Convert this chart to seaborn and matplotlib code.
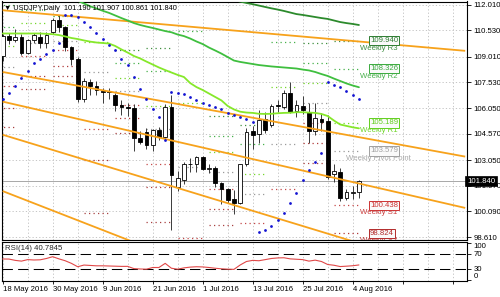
import matplotlib
matplotlib.use("Agg")
import matplotlib.pyplot as plt
import matplotlib.transforms as mtransforms
import numpy as np
import pandas as pd
import seaborn as sns

# ---------------- data ----------------
dates = pd.bdate_range("2016-05-18", "2016-08-05")

opens = [109.05, 110.20, 109.95, 110.15, 109.25, 109.97, 110.15, 109.80, 110.45, 111.10,
         110.70, 109.55, 108.85, 106.55, 107.55, 107.35, 107.05, 107.05, 106.80, 106.20,
         106.10, 106.05, 104.30, 104.65, 103.90, 104.80, 104.40, 106.10, 101.50, 101.90,
         102.80, 102.80, 103.20, 102.55, 102.60, 101.70, 101.40, 100.80, 100.60, 102.85,
         104.70, 104.55, 105.40, 105.10, 106.20, 106.10, 106.90, 105.90, 106.15, 105.80,
         104.70, 105.40, 105.30, 102.25, 102.35, 100.85, 101.15, 101.19]
highs = [110.30, 110.35, 110.60, 110.30, 110.05, 110.35, 110.45, 110.45, 111.25, 111.40,
         110.80, 109.60, 109.00, 107.80, 107.70, 107.60, 107.20, 107.20, 106.90, 106.50,
         106.35, 106.30, 104.70, 104.90, 104.85, 104.95, 106.30, 106.80, 102.40, 102.95,
         103.15, 103.30, 103.30, 102.80, 102.70, 101.80, 101.45, 101.30, 102.85, 104.90,
         105.00, 105.95, 105.80, 106.30, 106.50, 107.10, 107.55, 106.50, 106.72, 106.35,
         106.35, 105.75, 105.65, 102.80, 102.60, 101.40, 101.55, 101.907]
lows = [108.75, 109.75, 109.85, 109.10, 109.15, 109.80, 109.50, 109.50, 110.30, 110.45,
        109.35, 108.55, 106.40, 106.40, 106.80, 106.80, 106.35, 106.55, 105.90, 105.65,
        105.60, 103.55, 104.00, 103.70, 103.60, 104.20, 104.20, 99.00, 101.25, 101.65,
        102.35, 102.35, 102.50, 102.30, 101.50, 100.50, 100.60, 99.95, 100.50, 102.70,
        103.70, 104.05, 104.60, 104.95, 105.85, 106.00, 105.75, 105.55, 105.70, 104.05,
        104.50, 104.70, 101.97, 101.80, 100.70, 100.75, 100.80, 100.861]
closes = [110.20, 109.95, 110.15, 109.25, 109.97, 110.25, 109.80, 110.25, 111.10, 110.75,
          109.55, 108.85, 106.55, 107.60, 107.30, 107.10, 107.00, 106.95, 106.20, 106.10,
          106.05, 104.30, 104.10, 103.90, 104.80, 104.40, 106.10, 102.20, 102.00, 102.80,
          102.85, 103.20, 102.55, 102.60, 101.75, 101.40, 100.75, 100.55, 102.80, 104.65,
          104.50, 105.35, 104.80, 106.15, 106.15, 106.90, 105.85, 106.20, 105.95, 104.70,
          105.45, 105.25, 102.05, 102.40, 100.85, 101.20, 101.22, 101.840]

nan = np.nan
ma_fast = [110.35, 110.35, 110.35, 110.35, 110.35, 110.35, 110.35, 110.33, 110.31, 110.26,
           110.18, 110.09, 110.03, 109.95, 109.88, 109.83, 109.80, 109.77, 109.63, 109.43,
           109.25, 109.05, 108.91, 108.73, 108.56, 108.39, 108.24, 108.10, 107.96, 107.84,
           107.49, 107.26, 107.09, 106.89, 106.69, 106.49, 106.17, 105.97, 105.84, 105.79,
           105.77, 105.72, 105.71, 105.72, 105.75, 105.77, 105.78, 105.81, 105.81, 105.79,
           105.77, 105.71, 105.59, 105.33, 105.10, 105.02, 104.94, 104.88]
ma_mid = [nan] * 8 + [112.75, 112.62, 112.50, 112.38, 112.24, 112.08, 111.92, 111.79, 111.66,
          111.54, 111.39, 111.24, 111.10, 110.95, 110.84, 110.75, 110.67, 110.58, 110.49,
          110.42, 110.29, 110.20, 110.06, 109.89, 109.74, 109.54, 109.37, 109.19, 108.99,
          108.79, 108.71, 108.65, 108.59, 108.53, 108.49, 108.45, 108.42, 108.39, 108.36,
          108.33, 108.27, 108.22, 108.13, 108.01, 107.90, 107.75, 107.61, 107.47, 107.35,
          107.25]
ma_slow = [nan] * 36 + [112.40, 112.28, 112.19, 112.11, 112.04, 111.96, 111.88, 111.80,
           111.73, 111.65, 111.56, 111.47, 111.42, 111.36, 111.30, 111.24, 111.19, 111.10,
           111.01, 110.95, 110.90, 110.84]

sar = [106.57, 106.90, 107.32, 107.77, 108.21, 108.63, 108.86, 109.18, 109.42, 109.80,
       111.42, 111.40, 111.30, 111.04, 110.73, 110.40, 110.02, 109.70, 109.40, 108.86,
       108.53, 107.86, 107.13, 106.55, 105.98, 105.55, 104.21, 106.95, 106.90, 106.86,
       106.67, 106.51, 106.32, 106.21, 106.13, 105.98, 105.75, 105.65, 105.52, 105.42,
       105.26, 98.88, 99.02, 99.25, 99.60, 100.01, 100.56, 101.17, 101.90, 102.48,
       102.96, 103.44, 107.57, 107.38, 107.28, 107.05, 106.80, 106.55]

rsi = [56.7, 56.5, 53.0, 51.0, 55.0, 54.0, 54.5, 58.0, 62.8, 57.0,
       52.0, 45.0, 36.0, 40.5, 39.5, 38.5, 38.5, 38.0, 37.5, 37.0,
       37.0, 31.0, 30.0, 29.5, 34.0, 34.0, 45.0, 32.0, 29.5, 33.0,
       35.0, 36.0, 35.5, 34.0, 32.0, 30.5, 29.5, 29.0, 40.7, 50.0,
       53.0, 52.0, 55.0, 58.0, 59.5, 60.0, 57.0, 56.0, 55.0, 51.0,
       53.6, 50.0, 42.0, 40.0, 36.5, 37.5, 38.7, 40.78]

# weekly pivot levels (first bar of each week, then levels; None = off chart)
week_start = [-2, 3, 8, 13, 18, 23, 28, 33, 38, 43, 48, 53]
piv_r3 = [112.00, None, None, None, 109.40, 109.50, None, 105.60, 105.10, None, 109.78, 109.940]
piv_r2 = [110.75, 111.72, 111.38, None, 108.65, 108.20, 110.47, 104.45, 103.95, 109.86, 108.64, 108.326]
piv_r1 = [109.65, 110.93, 110.82, 109.87, 107.80, 106.15, 106.33, 103.50, 102.25, 107.28, 107.48, 105.189]
piv_pp = [108.40, 109.82, 109.93, 108.13, 107.05, 104.85, 102.67, 102.35, 101.10, 103.98, 106.34, 103.579]
piv_s1 = [107.30, 109.03, 109.37, 104.82, 106.20, 102.80, 98.53, 101.40, 99.40, 101.40, 105.18, 100.438]
piv_s2 = [106.05, 107.92, 108.48, 103.08, 105.45, 101.50, None, 100.25, None, None, 104.04, 98.824]
piv_s3 = [104.95, 107.14, 107.91, 100.00, 104.60, 99.45, None, 99.30, None, None, 102.88, None]

# channel / trend lines: (bar0, price0, bar1, price1)
trend_lines = [(0, 111.69, 74, 109.35),
               (0, 108.13, 74, 103.25),
               (0, 106.42, 74, 100.29),
               (0, 104.51, 60, 97.93),
               (0, 101.26, 24, 97.89)]

price_ticks = [112.010, 110.530, 109.010, 107.530, 106.050, 104.570, 103.050, 101.570, 100.090, 98.610]
rsi_levels = [30, 70]
rsi_ticks = [0, 30, 70, 100]

# ---------------- style ----------------
sns.set_theme(style="white")
plt.rcParams["font.family"] = ["Liberation Sans", "DejaVu Sans"]
FS = 5.6

fig = plt.figure(figsize=(5.0, 2.97), dpi=100)
fig.patch.set_facecolor("white")
W, H = 500.0, 297.0
ax = fig.add_axes([1.5 / W, 1 - 240 / H, (467 - 1.5) / W, (240 - 1.5) / H])
rax = fig.add_axes([1.5 / W, 1 - 281 / H, (467 - 1.5) / W, (281 - 241.5) / H])

n = len(opens)
idx = np.arange(n)
o, h, l, c = (np.array(v) for v in (opens, highs, lows, closes))

xlim = (-0.19, 74.29)
major_x = np.arange(0, 75, 8)
for a in (ax, rax):
    a.set_facecolor("white")
    a.set_xlim(*xlim)
    for s in a.spines.values():
        s.set_color("black")
        s.set_linewidth(0.8)
    a.set_xticks(major_x)
    a.set_xticks(np.arange(4, 75, 8), minor=True)
    a.grid(True, which="both", axis="x", color="#BDBDBD", lw=0.6, ls=(0, (1.5, 2.5)))

ax.set_ylim(98.44, 112.195)
ax.set_yticks(price_ticks)
ax.set_yticklabels([f"{v:.3f}" for v in price_ticks])
ax.grid(True, axis="y", color="#BDBDBD", lw=0.6, ls=(0, (1.5, 2.5)))
ax.yaxis.tick_right()
ax.tick_params(axis="y", which="both", right=True, length=3, width=0.6, labelsize=FS, pad=1.5, colors="black")
ax.tick_params(axis="x", which="both", bottom=False, labelbottom=False)

# candles
ax.vlines(idx, l, h, color="#3A3A3A", lw=0.7, zorder=3)
body_b = np.minimum(o, c)
body_h = np.maximum(np.abs(c - o), 0.012)
ax.bar(idx, body_h, bottom=body_b, width=0.62,
       color=np.where(c >= o, "white", "black"), edgecolor="black", linewidth=0.6, zorder=4)

# current price line
ax.axhline(closes[-1], color="#A8A8A8", lw=0.7, zorder=2)

# weekly pivot dotted segments
level_sets = [(piv_r3, "#3F8F3F"), (piv_r2, "#46B04A"), (piv_r1, "#74D62A"),
              (piv_pp, "#9A9A9A"), (piv_s1, "#C44848"), (piv_s2, "#B03A3A"), (piv_s3, "#A84040")]
for vals, col in level_sets:
    for ws, v in zip(week_start, vals):
        if v is None:
            continue
        ax.hlines(v, ws, ws + 4, colors=col, lw=0.9, linestyles=[(0, (1, 2.6))], zorder=2.5)

# trend lines
for b0, p0, b1, p1 in trend_lines:
    ax.plot([b0, b1], [p0, p1], color="#F7A21B", lw=1.3, zorder=5, solid_capstyle="butt")

# moving averages
sns.lineplot(x=idx, y=ma_slow, ax=ax, color="#2C8A2C", lw=1.3, zorder=6)
sns.lineplot(x=idx, y=ma_mid, ax=ax, color="#3FBF3F", lw=1.3, zorder=6)
sns.lineplot(x=idx, y=ma_fast, ax=ax, color="#86E82A", lw=1.3, zorder=6)

# parabolic SAR
sns.scatterplot(x=idx, y=sar, ax=ax, color="#1414D2", s=4, linewidth=0, zorder=7)

# weekly level labels (latest week)
last = week_start[-1] + 4
label_specs = [
    (piv_r3[-1], "Weekly R3", "#2E7D32", "#3E8E41"),
    (piv_r2[-1], "Weekly R2", "#3AAA3E", "#46B04A"),
    (piv_r1[-1], "Weekly R1", "#62CF1E", "#6FD62A"),
    (piv_pp[-1], "Weekly Pivot Point", "#A0A0A0", "#A8A8A8"),
    (piv_s1[-1], "Weekly S1", "#CC3333", "#CC3D3D"),
    (piv_s2[-1], "Weekly S2", "#B22A2A", "#B83434"),
]
for v, name, bcol, tcol in label_specs:
    tx = last + 0.2 if "Pivot" not in name else last - 2.1
    ax.text(tx, v - 0.44, name, color=tcol, fontsize=FS, va="center", ha="left", zorder=8, clip_on=True)
    ax.text(last + 1.75, v, f"{v:.3f}", color=bcol, fontsize=FS, va="center", ha="left", zorder=9,
            clip_on=True,
            bbox=dict(boxstyle="square,pad=0.15", fc="#FAFAFA", ec=bcol, lw=0.7))

# current price tag
trans = mtransforms.blended_transform_factory(ax.transAxes, ax.transData)
ax.text(1.0, closes[-1], f"{closes[-1]:.3f}", transform=trans, color="white", fontsize=FS,
        va="center", ha="left", zorder=10, clip_on=False,
        bbox=dict(boxstyle="square,pad=0.2", fc="black", ec="black", lw=0.5))

# header
fig.text(4 / W, 1 - 8.5 / H, "\u25bc USDJPY,Daily  101.190 101.907 100.861 101.840",
         fontsize=5.3, va="center", ha="left", color="black")

# ---------------- RSI panel ----------------
rax.set_ylim(-2, 103.3)
sns.lineplot(x=idx, y=rsi, ax=rax, color="#E04848", lw=0.8, zorder=4)
for lv in rsi_levels:
    rax.axhline(lv, color="black", lw=0.75, ls=(0, (10, 5)), zorder=3)
rax.set_xlim(*xlim)
rax.yaxis.tick_right()
rax.set_yticks(rsi_ticks)
rax.set_yticklabels([str(t) for t in rsi_ticks])
rax.tick_params(axis="y", right=True, length=3, width=0.6, labelsize=FS, pad=1.5, colors="black")
for lbl, t in zip(rax.get_yticklabels(), rsi_ticks):
    if t == 100:
        lbl.set_va("top")
    elif t == 0:
        lbl.set_va("bottom")
rax.set_xticks(major_x)
rax.set_xticklabels([f"{dates[b].day} {dates[b]:%b %Y}" if b < n else "" for b in major_x])
rax.tick_params(axis="x", which="major", bottom=True, length=2, width=0.6, labelsize=FS, pad=1.5, colors="black")
rax.tick_params(axis="x", which="minor", bottom=False)
for lbl in rax.get_xticklabels():
    lbl.set_ha("left")
rax.text(0.008, 0.83, "RSI(14) 40.7845", transform=rax.transAxes, fontsize=FS, va="center", ha="left")
rax.set_xlabel("")
rax.set_ylabel("")
ax.set_xlabel("")
ax.set_ylabel("")
ax.set_xlim(*xlim)

fig.savefig("out.png", dpi=100, facecolor="white")
